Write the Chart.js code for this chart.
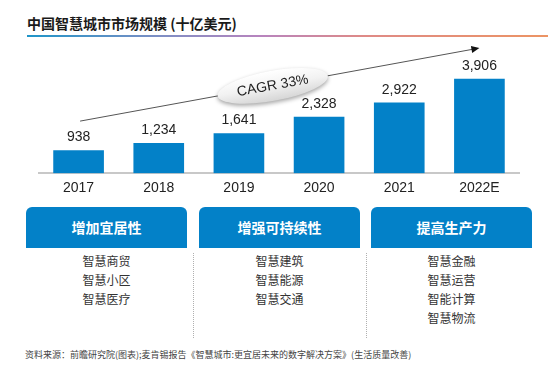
<!DOCTYPE html>
<html><head><meta charset="utf-8">
<script src="https://cdn.jsdelivr.net/npm/chart.js@4"></script>
<style>
html,body{margin:0;padding:0;background:#fff;}
#wrap{position:relative;width:558px;height:377px;overflow:hidden;font-family:"Noto Sans CJK SC","Noto Sans",sans-serif;}
#title{position:absolute;left:27px;top:13px;font-size:14px;font-weight:bold;color:#1a1a1a;white-space:nowrap;line-height:20px;}
#rule{position:absolute;left:27px;top:35px;width:521px;height:2px;background:linear-gradient(90deg,#1f95c8 0%,#7c8ec4 25%,#b884be 45%,#df8a86 65%,#ec9464 100%);}
#cv{position:absolute;left:0;top:40px;width:558px;height:167px;}
.head{position:absolute;top:207px;height:41px;background:#0381c8;border-radius:6px 6px 0 0;color:#fff;font-weight:bold;font-size:14px;line-height:41px;text-align:center;}
.items{position:absolute;top:251px;text-align:center;font-size:12px;line-height:19px;color:#333;}
.sep{position:absolute;top:253px;height:85px;border-left:1px dotted #b0b0b0;width:0;}
#src{position:absolute;left:25px;top:348px;font-size:9px;color:#444;white-space:nowrap;line-height:14px;}
</style></head>
<body><div id="wrap">
<div id="title">中国智慧城市市场规模 (十亿美元)</div>
<div id="rule"></div>
<canvas id="cv" width="558" height="167"></canvas>
<div id="panels"></div>
<div class="sep" style="left:193px"></div>
<div class="sep" style="left:366px"></div>
<div id="src">资料来源：前瞻研究院(图表);麦肯锡报告《智慧城市:更宜居未来的数字解决方案》(生活质量改善)</div>
</div>
<script>
const categories = ['2017','2018','2019','2020','2021','2022E'];
const marketSize = [938, 1234, 1641, 2328, 2922, 3906];
const cagrLabel = 'CAGR 33%';
const arrowStart = [0, 2160];   // [category index, value]
const arrowEnd = [5, 5190];
const panelTitles = ['增加宜居性','增强可持续性','提高生产力'];
const panelItems = [
  ['智慧商贸','智慧小区','智慧医疗'],
  ['智慧建筑','智慧能源','智慧交通'],
  ['智慧金融','智慧运营','智能计算','智慧物流']
];

// panels
const panelX = [[26,187],[199,360],[371,532]];
const pDiv = document.getElementById('panels');
panelTitles.forEach((t,i)=>{
  const [a,b] = panelX[i];
  const h = document.createElement('div');
  h.className='head'; h.style.left=a+'px'; h.style.width=(b-a)+'px'; h.textContent=t;
  pDiv.appendChild(h);
  const it = document.createElement('div');
  it.className='items'; it.style.left=a+'px'; it.style.width=(b-a)+'px';
  it.innerHTML = panelItems[i].join('<br>');
  pDiv.appendChild(it);
});

const latin = '"Liberation Sans", Arial, sans-serif';

const labelPlugin = {
  id:'valueLabels',
  afterDatasetsDraw(chart){
    const ctx = chart.ctx;
    const meta = chart.getDatasetMeta(0);
    ctx.save();
    ctx.font = '14px ' + latin;
    ctx.fillStyle = '#222';
    ctx.textAlign = 'center';
    ctx.textBaseline = 'middle';
    meta.data.forEach((bar,i)=>{
      ctx.fillText(marketSize[i].toLocaleString('en-US'), bar.x, bar.y - 13);
    });
    ctx.restore();
  }
};

const arrowPlugin = {
  id:'cagrArrow',
  afterDatasetsDraw(chart){
    const ctx = chart.ctx;
    const xs = chart.scales.x, ys = chart.scales.y;
    const x0 = xs.getPixelForValue(arrowStart[0]) + 1.5, y0 = ys.getPixelForValue(arrowStart[1]);
    const x1 = xs.getPixelForValue(arrowEnd[0]), y1 = ys.getPixelForValue(arrowEnd[1]);
    const ang = Math.atan2(y1-y0, x1-x0);
    ctx.save();
    ctx.strokeStyle = '#555';
    ctx.lineWidth = 1;
    ctx.beginPath(); ctx.moveTo(x0,y0); ctx.lineTo(x1 - 6*Math.cos(ang), y1 - 6*Math.sin(ang)); ctx.stroke();
    // arrowhead
    ctx.fillStyle = '#111';
    ctx.beginPath();
    ctx.moveTo(x1,y1);
    ctx.lineTo(x1 - 8*Math.cos(ang) + 3.5*Math.sin(ang), y1 - 8*Math.sin(ang) - 3.5*Math.cos(ang));
    ctx.lineTo(x1 - 8*Math.cos(ang) - 3.5*Math.sin(ang), y1 - 8*Math.sin(ang) + 3.5*Math.cos(ang));
    ctx.closePath(); ctx.fill();
    // ellipse
    const t = 0.4825;
    const cx = x0 + (x1-x0)*t, cy = y0 + (y1-y0)*t;
    ctx.translate(cx, cy);
    ctx.rotate(ang);
    ctx.shadowColor = 'rgba(0,0,0,0.35)';
    ctx.shadowBlur = 4;
    ctx.shadowOffsetY = 2;
    const g = ctx.createLinearGradient(0,-15,0,15);
    g.addColorStop(0,'#ffffff'); g.addColorStop(0.5,'#f2f2f2'); g.addColorStop(1,'#d6d6d6');
    ctx.fillStyle = g;
    ctx.beginPath(); ctx.ellipse(0,0,56,15,0,0,Math.PI*2); ctx.fill();
    ctx.shadowColor = 'transparent';
    ctx.fillStyle = '#222';
    ctx.font = '14px ' + latin;
    ctx.textAlign = 'center'; ctx.textBaseline = 'middle';
    ctx.fillText(cagrLabel, 0, 0);
    ctx.restore();
  }
};

new Chart(document.getElementById('cv'), {
  type:'bar',
  data:{labels:categories, datasets:[{data:marketSize, backgroundColor:'#0381c8', barThickness:50}]},
  options:{
    responsive:false, animation:false,
    layout:{padding:{left:38.5,right:38.5,top:5.4,bottom:3}},
    plugins:{legend:{display:false}, tooltip:{enabled:false}},
    scales:{
      x:{grid:{display:false, drawTicks:false}, border:{display:true,color:'#c8c8c8',width:2},
         ticks:{padding:7, color:'#222', font:{family:latin, size:14}}},
      y:{display:false, min:0, max:5300}
    }
  },
  plugins:[labelPlugin, arrowPlugin]
});
</script>
</body></html>
